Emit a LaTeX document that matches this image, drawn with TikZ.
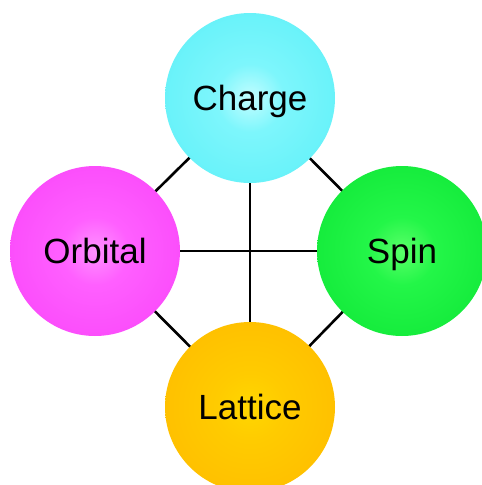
\documentclass[tikz,border=0pt]{standalone}
\usepackage{fontspec}
\setmainfont{Liberation Sans}
\usetikzlibrary{backgrounds}
\pgfdeclareradialshading{ballcyan}{\pgfpoint{0bp}{0bp}}{color(0bp)=(rgb,255:red,195;green,253;blue,255); color(10bp)=(rgb,255:red,125;green,246;blue,252); color(50bp)=(rgb,255:red,72;green,236;blue,245)}
\pgfdeclareradialshading{ballmagenta}{\pgfpoint{0bp}{0bp}}{color(0bp)=(rgb,255:red,255;green,145;blue,255); color(10bp)=(rgb,255:red,255;green,95;blue,255); color(50bp)=(rgb,255:red,245;green,50;blue,245)}
\pgfdeclareradialshading{ballgreen}{\pgfpoint{0bp}{0bp}}{color(0bp)=(rgb,255:red,90;green,255;blue,105); color(10bp)=(rgb,255:red,35;green,246;blue,72); color(50bp)=(rgb,255:red,0;green,220;blue,42)}
\pgfdeclareradialshading{ballorange}{\pgfpoint{0bp}{0bp}}{color(0bp)=(rgb,255:red,255;green,215;blue,0); color(10bp)=(rgb,255:red,255;green,203;blue,0); color(50bp)=(rgb,255:red,255;green,176;blue,0)}
\begin{document}
\begin{tikzpicture}[x=1pt,y=-1pt,
  ball/.style={circle, minimum size=170pt, inner sep=0pt, draw=none, text height=25pt, text depth=0pt, font=\fontsize{35}{40}\selectfont},
  link/.style={line width=2.6pt, black}]
\useasboundingbox (0,0) rectangle (482,485);
\node[ball, shading=ballcyan] (charge) at (250,98) {Charge};
\node[ball, shading=ballmagenta] (orbital) at (95,251) {Orbital};
\node[ball, shading=ballgreen] (spin) at (402,251) {Spin};
\node[ball, shading=ballorange] (lattice) at (250,407) {Lattice};
\begin{scope}[on background layer]
\draw[link] (charge.center) -- (orbital.center);
\draw[link] (charge.center) -- (spin.center);
\draw[link] (orbital.center) -- (lattice.center);
\draw[link] (spin.center) -- (lattice.center);
\draw[link] (charge.center) -- (lattice.center);
\draw[link] (orbital.center) -- (spin.center);
\end{scope}
\end{tikzpicture}
\end{document}
